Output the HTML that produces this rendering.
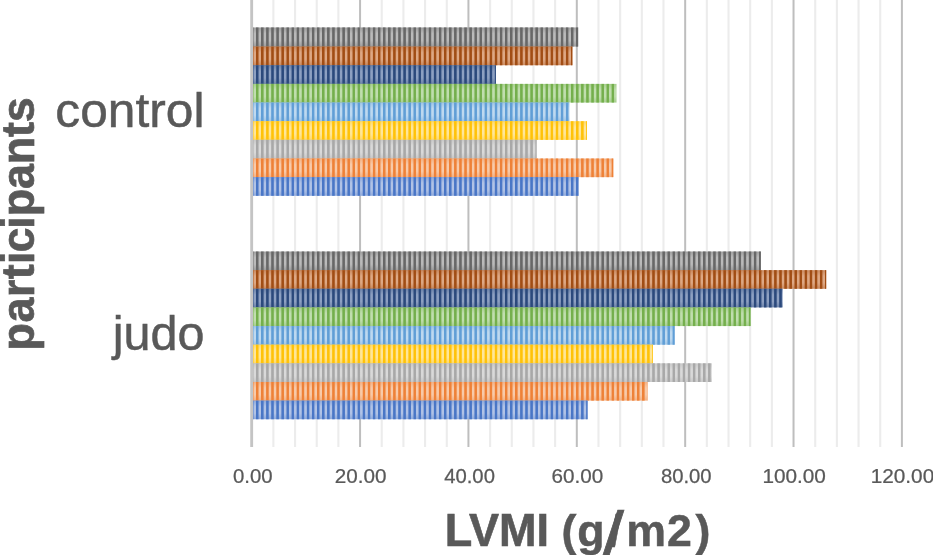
<!DOCTYPE html>
<html><head><meta charset="utf-8"><title>LVMI chart</title>
<style>
html,body{margin:0;padding:0;background:#fff;}
body{width:933px;height:555px;position:relative;overflow:hidden;font-family:"Liberation Sans",sans-serif;color:#595959;}
</style></head><body>
<svg width="933" height="555" viewBox="0 0 933 555" style="position:absolute;left:0;top:0" font-family="'Liberation Sans', sans-serif" fill="#595959">
<defs>
<linearGradient id="g0" x1="0" y1="0" x2="0" y2="1"><stop offset="0" stop-color="#9e9e9e"/><stop offset="0.32" stop-color="#bababa"/><stop offset="0.68" stop-color="#bababa"/><stop offset="1" stop-color="#9e9e9e"/></linearGradient>
<linearGradient id="h0" x1="0" y1="0" x2="1" y2="0"><stop offset="0" stop-color="#676767" stop-opacity="0"/><stop offset="0.02" stop-color="#676767"/><stop offset="0.98" stop-color="#676767"/><stop offset="1" stop-color="#676767" stop-opacity="0"/></linearGradient>
<pattern id="p0" patternUnits="userSpaceOnUse" x="256.000" y="0" width="5.08" height="600"><rect x="0" y="0" width="2.5" height="600" fill="url(#h0)"/></pattern>
<linearGradient id="g1" x1="0" y1="0" x2="0" y2="1"><stop offset="0" stop-color="#ca895e"/><stop offset="0.32" stop-color="#dea884"/><stop offset="0.68" stop-color="#dea884"/><stop offset="1" stop-color="#ca895e"/></linearGradient>
<linearGradient id="h1" x1="0" y1="0" x2="1" y2="0"><stop offset="0" stop-color="#a14d14" stop-opacity="0"/><stop offset="0.02" stop-color="#a14d14"/><stop offset="0.98" stop-color="#a14d14"/><stop offset="1" stop-color="#a14d14" stop-opacity="0"/></linearGradient>
<pattern id="p1" patternUnits="userSpaceOnUse" x="256.000" y="0" width="5.08" height="600"><rect x="0" y="0" width="2.5" height="600" fill="url(#h1)"/></pattern>
<linearGradient id="g2" x1="0" y1="0" x2="0" y2="1"><stop offset="0" stop-color="#6c83aa"/><stop offset="0.32" stop-color="#8da0c2"/><stop offset="0.68" stop-color="#8da0c2"/><stop offset="1" stop-color="#6c83aa"/></linearGradient>
<linearGradient id="h2" x1="0" y1="0" x2="1" y2="0"><stop offset="0" stop-color="#2b497c" stop-opacity="0"/><stop offset="0.02" stop-color="#2b497c"/><stop offset="0.98" stop-color="#2b497c"/><stop offset="1" stop-color="#2b497c" stop-opacity="0"/></linearGradient>
<pattern id="p2" patternUnits="userSpaceOnUse" x="256.000" y="0" width="5.08" height="600"><rect x="0" y="0" width="2.5" height="600" fill="url(#h2)"/></pattern>
<linearGradient id="g3" x1="0" y1="0" x2="0" y2="1"><stop offset="0" stop-color="#a6ce8d"/><stop offset="0.32" stop-color="#c0deae"/><stop offset="0.68" stop-color="#c0deae"/><stop offset="1" stop-color="#a6ce8d"/></linearGradient>
<linearGradient id="h3" x1="0" y1="0" x2="1" y2="0"><stop offset="0" stop-color="#74af4c" stop-opacity="0"/><stop offset="0.02" stop-color="#74af4c"/><stop offset="0.98" stop-color="#74af4c"/><stop offset="1" stop-color="#74af4c" stop-opacity="0"/></linearGradient>
<pattern id="p3" patternUnits="userSpaceOnUse" x="256.000" y="0" width="5.08" height="600"><rect x="0" y="0" width="2.5" height="600" fill="url(#h3)"/></pattern>
<linearGradient id="g4" x1="0" y1="0" x2="0" y2="1"><stop offset="0" stop-color="#9ec5e7"/><stop offset="0.32" stop-color="#bed9f0"/><stop offset="0.68" stop-color="#bed9f0"/><stop offset="1" stop-color="#9ec5e7"/></linearGradient>
<linearGradient id="h4" x1="0" y1="0" x2="1" y2="0"><stop offset="0" stop-color="#609ed6" stop-opacity="0"/><stop offset="0.02" stop-color="#609ed6"/><stop offset="0.98" stop-color="#609ed6"/><stop offset="1" stop-color="#609ed6" stop-opacity="0"/></linearGradient>
<pattern id="p4" patternUnits="userSpaceOnUse" x="256.000" y="0" width="5.08" height="600"><rect x="0" y="0" width="2.5" height="600" fill="url(#h4)"/></pattern>
<linearGradient id="g5" x1="0" y1="0" x2="0" y2="1"><stop offset="0" stop-color="#ffda68"/><stop offset="0.32" stop-color="#ffe699"/><stop offset="0.68" stop-color="#ffe699"/><stop offset="1" stop-color="#ffda68"/></linearGradient>
<linearGradient id="h5" x1="0" y1="0" x2="1" y2="0"><stop offset="0" stop-color="#ffc208" stop-opacity="0"/><stop offset="0.02" stop-color="#ffc208"/><stop offset="0.98" stop-color="#ffc208"/><stop offset="1" stop-color="#ffc208" stop-opacity="0"/></linearGradient>
<pattern id="p5" patternUnits="userSpaceOnUse" x="256.000" y="0" width="5.08" height="600"><rect x="0" y="0" width="2.5" height="600" fill="url(#h5)"/></pattern>
<linearGradient id="g6" x1="0" y1="0" x2="0" y2="1"><stop offset="0" stop-color="#c8c8c8"/><stop offset="0.32" stop-color="#d9d9d9"/><stop offset="0.68" stop-color="#d9d9d9"/><stop offset="1" stop-color="#c8c8c8"/></linearGradient>
<linearGradient id="h6" x1="0" y1="0" x2="1" y2="0"><stop offset="0" stop-color="#a8a8a8" stop-opacity="0"/><stop offset="0.02" stop-color="#a8a8a8"/><stop offset="0.98" stop-color="#a8a8a8"/><stop offset="1" stop-color="#a8a8a8" stop-opacity="0"/></linearGradient>
<pattern id="p6" patternUnits="userSpaceOnUse" x="256.000" y="0" width="5.08" height="600"><rect x="0" y="0" width="2.5" height="600" fill="url(#h6)"/></pattern>
<linearGradient id="g7" x1="0" y1="0" x2="0" y2="1"><stop offset="0" stop-color="#f4b183"/><stop offset="0.32" stop-color="#f8caa9"/><stop offset="0.68" stop-color="#f8caa9"/><stop offset="1" stop-color="#f4b183"/></linearGradient>
<linearGradient id="h7" x1="0" y1="0" x2="1" y2="0"><stop offset="0" stop-color="#ee8137" stop-opacity="0"/><stop offset="0.02" stop-color="#ee8137"/><stop offset="0.98" stop-color="#ee8137"/><stop offset="1" stop-color="#ee8137" stop-opacity="0"/></linearGradient>
<pattern id="p7" patternUnits="userSpaceOnUse" x="256.000" y="0" width="5.08" height="600"><rect x="0" y="0" width="2.5" height="600" fill="url(#h7)"/></pattern>
<linearGradient id="g8" x1="0" y1="0" x2="0" y2="1"><stop offset="0" stop-color="#8ea9db"/><stop offset="0.32" stop-color="#b1c3e6"/><stop offset="0.68" stop-color="#b1c3e6"/><stop offset="1" stop-color="#8ea9db"/></linearGradient>
<linearGradient id="h8" x1="0" y1="0" x2="1" y2="0"><stop offset="0" stop-color="#4976c6" stop-opacity="0"/><stop offset="0.02" stop-color="#4976c6"/><stop offset="0.98" stop-color="#4976c6"/><stop offset="1" stop-color="#4976c6" stop-opacity="0"/></linearGradient>
<pattern id="p8" patternUnits="userSpaceOnUse" x="256.000" y="0" width="5.08" height="600"><rect x="0" y="0" width="2.5" height="600" fill="url(#h8)"/></pattern>
</defs>
<rect x="0" y="0" width="933" height="555" fill="#fff"/>
<rect x="272.32" y="0" width="2.1" height="447" fill="#ececec"/>
<rect x="294.00" y="0" width="2.1" height="447" fill="#ececec"/>
<rect x="315.67" y="0" width="2.1" height="447" fill="#ececec"/>
<rect x="337.34" y="0" width="2.1" height="447" fill="#ececec"/>
<rect x="359.07" y="0" width="2.0" height="447" fill="#bebebe"/>
<rect x="380.69" y="0" width="2.1" height="447" fill="#ececec"/>
<rect x="402.36" y="0" width="2.1" height="447" fill="#ececec"/>
<rect x="424.04" y="0" width="2.1" height="447" fill="#ececec"/>
<rect x="445.71" y="0" width="2.1" height="447" fill="#ececec"/>
<rect x="467.43" y="0" width="2.0" height="447" fill="#bebebe"/>
<rect x="489.06" y="0" width="2.1" height="447" fill="#ececec"/>
<rect x="510.73" y="0" width="2.1" height="447" fill="#ececec"/>
<rect x="532.40" y="0" width="2.1" height="447" fill="#ececec"/>
<rect x="554.08" y="0" width="2.1" height="447" fill="#ececec"/>
<rect x="575.80" y="0" width="2.0" height="447" fill="#bebebe"/>
<rect x="597.42" y="0" width="2.1" height="447" fill="#ececec"/>
<rect x="619.10" y="0" width="2.1" height="447" fill="#ececec"/>
<rect x="640.77" y="0" width="2.1" height="447" fill="#ececec"/>
<rect x="662.44" y="0" width="2.1" height="447" fill="#ececec"/>
<rect x="684.17" y="0" width="2.0" height="447" fill="#bebebe"/>
<rect x="705.79" y="0" width="2.1" height="447" fill="#ececec"/>
<rect x="727.46" y="0" width="2.1" height="447" fill="#ececec"/>
<rect x="749.14" y="0" width="2.1" height="447" fill="#ececec"/>
<rect x="770.81" y="0" width="2.1" height="447" fill="#ececec"/>
<rect x="792.53" y="0" width="2.0" height="447" fill="#bebebe"/>
<rect x="814.16" y="0" width="2.1" height="447" fill="#ececec"/>
<rect x="835.83" y="0" width="2.1" height="447" fill="#ececec"/>
<rect x="857.50" y="0" width="2.1" height="447" fill="#ececec"/>
<rect x="879.18" y="0" width="2.1" height="447" fill="#ececec"/>
<rect x="900.90" y="0" width="2.0" height="447" fill="#bebebe"/>
<rect x="250.25" y="0" width="2.85" height="447" fill="#c4c4c4"/>
<rect x="253.0" y="45.60" width="318.90" height="2" fill="#9b765d"/>
<rect x="253.0" y="64.25" width="242.40" height="2" fill="#7f6765"/>
<rect x="253.0" y="82.90" width="242.40" height="2" fill="#6a907e"/>
<rect x="253.0" y="101.55" width="316.00" height="2" fill="#82b6a3"/>
<rect x="253.0" y="120.20" width="316.00" height="2" fill="#bcbc86"/>
<rect x="253.0" y="138.85" width="283.10" height="2" fill="#dac072"/>
<rect x="253.0" y="157.50" width="283.10" height="2" fill="#d3a686"/>
<rect x="253.0" y="176.15" width="325.20" height="2" fill="#ab9092"/>
<rect x="253.0" y="27.45" width="325.20" height="19.15" fill="url(#g0)"/>
<rect x="253.0" y="27.45" width="325.20" height="19.15" fill="url(#p0)"/>
<rect x="253.0" y="46.60" width="319.40" height="18.65" fill="url(#g1)"/>
<rect x="253.0" y="46.60" width="319.40" height="18.65" fill="url(#p1)"/>
<rect x="253.0" y="65.25" width="242.90" height="18.65" fill="url(#g2)"/>
<rect x="253.0" y="65.25" width="242.90" height="18.65" fill="url(#p2)"/>
<rect x="253.0" y="83.90" width="363.40" height="18.65" fill="url(#g3)"/>
<rect x="253.0" y="83.90" width="363.40" height="18.65" fill="url(#p3)"/>
<rect x="253.0" y="102.55" width="316.50" height="18.65" fill="url(#g4)"/>
<rect x="253.0" y="102.55" width="316.50" height="18.65" fill="url(#p4)"/>
<rect x="253.0" y="121.20" width="334.00" height="18.65" fill="url(#g5)"/>
<rect x="253.0" y="121.20" width="334.00" height="18.65" fill="url(#p5)"/>
<rect x="253.0" y="139.85" width="283.60" height="18.65" fill="url(#g6)"/>
<rect x="253.0" y="139.85" width="283.60" height="18.65" fill="url(#p6)"/>
<rect x="253.0" y="158.50" width="360.30" height="18.65" fill="url(#g7)"/>
<rect x="253.0" y="158.50" width="360.30" height="18.65" fill="url(#p7)"/>
<rect x="253.0" y="177.15" width="325.70" height="18.65" fill="url(#g8)"/>
<rect x="253.0" y="177.15" width="325.70" height="18.65" fill="url(#p8)"/>
<rect x="253.0" y="269.14" width="507.40" height="2" fill="#9b765d"/>
<rect x="253.0" y="287.78" width="529.20" height="2" fill="#7f6765"/>
<rect x="253.0" y="306.42" width="497.10" height="2" fill="#6a907e"/>
<rect x="253.0" y="325.06" width="421.20" height="2" fill="#82b6a3"/>
<rect x="253.0" y="343.69" width="399.40" height="2" fill="#bcbc86"/>
<rect x="253.0" y="362.33" width="399.40" height="2" fill="#dac072"/>
<rect x="253.0" y="380.97" width="393.90" height="2" fill="#d3a686"/>
<rect x="253.0" y="399.61" width="334.10" height="2" fill="#ab9092"/>
<rect x="253.0" y="251.50" width="507.90" height="18.64" fill="url(#g0)"/>
<rect x="253.0" y="251.50" width="507.90" height="18.64" fill="url(#p0)"/>
<rect x="253.0" y="270.14" width="573.20" height="18.64" fill="url(#g1)"/>
<rect x="253.0" y="270.14" width="573.20" height="18.64" fill="url(#p1)"/>
<rect x="253.0" y="288.78" width="529.70" height="18.64" fill="url(#g2)"/>
<rect x="253.0" y="288.78" width="529.70" height="18.64" fill="url(#p2)"/>
<rect x="253.0" y="307.42" width="497.60" height="18.64" fill="url(#g3)"/>
<rect x="253.0" y="307.42" width="497.60" height="18.64" fill="url(#p3)"/>
<rect x="253.0" y="326.06" width="421.70" height="18.64" fill="url(#g4)"/>
<rect x="253.0" y="326.06" width="421.70" height="18.64" fill="url(#p4)"/>
<rect x="253.0" y="344.69" width="399.90" height="18.64" fill="url(#g5)"/>
<rect x="253.0" y="344.69" width="399.90" height="18.64" fill="url(#p5)"/>
<rect x="253.0" y="363.33" width="458.80" height="18.64" fill="url(#g6)"/>
<rect x="253.0" y="363.33" width="458.80" height="18.64" fill="url(#p6)"/>
<rect x="253.0" y="381.97" width="394.40" height="18.64" fill="url(#g7)"/>
<rect x="253.0" y="381.97" width="394.40" height="18.64" fill="url(#p7)"/>
<rect x="253.0" y="400.61" width="334.60" height="18.64" fill="url(#g8)"/>
<rect x="253.0" y="400.61" width="334.60" height="18.64" fill="url(#p8)"/>
<text transform="translate(233.00,483.20) scale(1.0286,1)" font-size="19.8" stroke="#595959" stroke-width="0.25">0.00</text>
<text transform="translate(334.77,483.20) scale(1.0454,1)" font-size="19.8" stroke="#595959" stroke-width="0.25">20.00</text>
<text transform="translate(444.18,483.20) scale(1.0242,1)" font-size="19.8" stroke="#595959" stroke-width="0.25">40.00</text>
<text transform="translate(551.50,483.20) scale(1.0454,1)" font-size="19.8" stroke="#595959" stroke-width="0.25">60.00</text>
<text transform="translate(660.92,483.20) scale(1.0242,1)" font-size="19.8" stroke="#595959" stroke-width="0.25">80.00</text>
<text transform="translate(762.38,483.20) scale(1.0487,1)" font-size="19.8" stroke="#595959" stroke-width="0.25">100.00</text>
<text transform="translate(870.75,483.20) scale(1.0487,1)" font-size="19.8" stroke="#595959" stroke-width="0.25">120.00</text>
<text transform="translate(55.37,127.00) scale(1.0142,1)" font-size="49" stroke="#595959" stroke-width="0.5">control</text>
<text transform="translate(112.78,350.10) scale(0.9905,1)" font-size="49" stroke="#595959" stroke-width="0.5">judo</text>
<text transform="translate(444.82,545.60) scale(0.9944,1)" font-size="45.3" font-weight="bold" stroke="#595959" stroke-width="0.6">LVMI</text>
<text transform="translate(602.00,557.00) scale(1.7692,1.47)" font-size="44.7" stroke="#595959" stroke-width="0.5">/</text>
<text transform="scale(1.0,1)" x="561.50 577.15 609.00 626.35 667.03 695.60" y="545.60" font-size="44.7" font-weight="bold" stroke="#595959" stroke-width="0.5">(g/m2)</text>
<text transform="translate(34.00,347.40) rotate(-90) scale(0.975,1)" x="-3.06 25.62 51.74 70.02 85.60 97.26 121.73 134.44 162.39 187.83 215.77 231.00" y="0" font-size="46" font-weight="bold" stroke="#595959" stroke-width="0.7">participants</text>
</svg>
</body></html>
